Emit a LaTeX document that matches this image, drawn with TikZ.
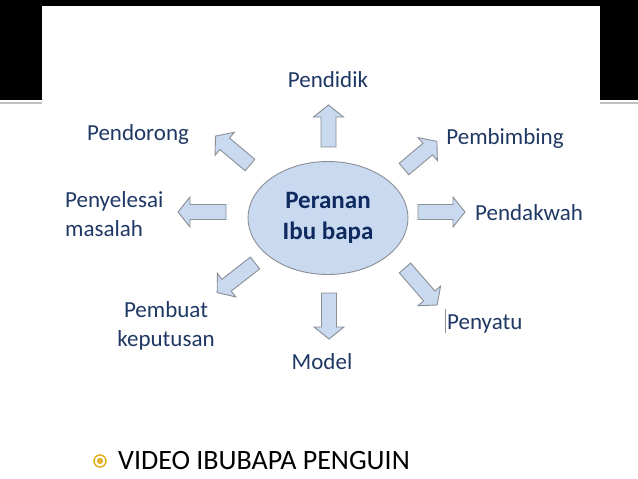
\documentclass[tikz,border=0pt]{standalone}
\usepackage{fontspec}
\setmainfont{Carlito}
\usepackage{xcolor}
\usepackage{tikz}
\usetikzlibrary{shapes.geometric, positioning, calc}
\definecolor{pbnavy}{HTML}{1F3864}
\definecolor{pbdeep}{HTML}{0E2A5E}
\definecolor{pbfill}{HTML}{C9D9EF}
\definecolor{pbedge}{HTML}{8A8F96}
\definecolor{pbgold}{HTML}{E2B42C}
\definecolor{pbrule}{HTML}{C0C0C0}

\tikzset{
  pics/blockarrow/.style={code={
    \draw[draw=pbedge, fill=pbfill, line width=0.9pt, line join=miter]
      (0,-7.5) -- ({#1-12},-7.5) -- ({#1-12},-15) -- (#1,0) -- ({#1-12},15) -- ({#1-12},7.5) -- (0,7.5) -- cycle;
  }},
}

\begin{document}
\begin{tikzpicture}[
    x=1pt, y=-1pt,
    lbl/.style={font=\fontsize{23}{29}\selectfont, text=pbnavy, inner sep=0pt},
    hub/.style={ellipse, draw=pbedge, fill=pbfill, line width=0.9pt, minimum width=160pt, minimum height=113pt, font=\fontsize{25}{31}\selectfont\bfseries, text=pbdeep, align=center},
]
\useasboundingbox (0,0) rectangle (638,479);
% slide frame
\fill[black] (0,0) rectangle (638,100);
\draw[pbrule, line width=2pt] (0,103) -- (42,103) (600,103) -- (638,103);
\fill[white] (42,6) rectangle (600,479);

\node[hub] (peranan) at (328,218) {Peranan\\Ibu bapa};

% arrows round the hub
\pic (aUp) at (328.5,147) [rotate=90] {blockarrow=42};
\pic (aDown) at (329,293) [rotate=-90] {blockarrow=46};
\pic (aRight) at (418,212) {blockarrow=47};
\pic (aLeft) at (226,212) [rotate=180] {blockarrow=48};
\pic (aNE) at (404,169) [rotate=40] {blockarrow=43};
\pic (aNW) at (250,165) [rotate=140] {blockarrow=45};
\pic (aSW) at (255,263) [rotate=218] {blockarrow=48};
\pic (aSE) at (405,268) [rotate=-49] {blockarrow=49};

\node[lbl, anchor=base] (pendidik) at (328,87) {Pendidik};
\node[lbl, anchor=base] (pendorong) at (138,140) {Pendorong};
\node[lbl, anchor=base] (pembimbing) at (505,144) {Pembimbing};
\node[lbl, anchor=west, align=left] (penyelesai) at (65,214) {Penyelesai\\masalah};
\node[lbl, anchor=base west] (pendakwah) at (475,220) {Pendakwah};
\node[lbl, align=center] (pembuat) at (166,326) {Pembuat\\keputusan};
\node[lbl, anchor=base west] (penyatu) at (447,329) {Penyatu};
\node[lbl, anchor=base] (model) at (322,369) {Model};
\draw[pbedge, line width=0.8pt] ([xshift=-2pt]penyatu.south west) -- ++(0,-24);

% bullet line
\node[draw=pbgold, line width=1.6pt, circle, minimum size=12pt, inner sep=0pt] (bullet) at (100,461) {};
\fill[pbgold] (bullet.center) circle (3.2pt);
\node[font=\fontsize{28}{32}\selectfont, anchor=west, inner sep=0pt] (video) at (118,461) {VIDEO IBUBAPA PENGUIN};
\end{tikzpicture}
\end{document}
